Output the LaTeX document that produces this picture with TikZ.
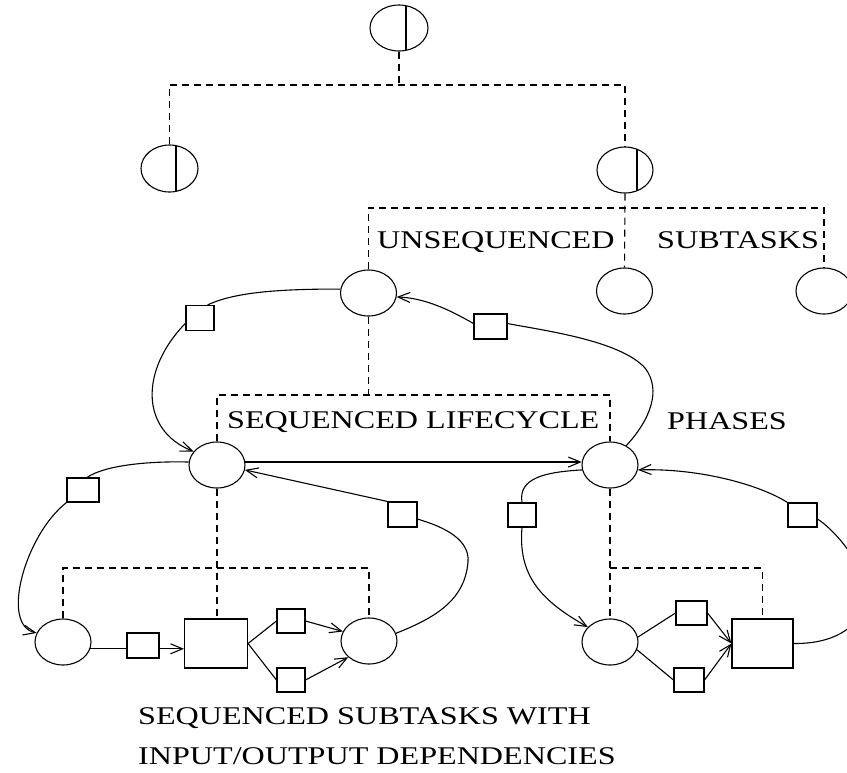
\documentclass[tikz,border=0pt]{standalone}
\usepackage{fontspec}
\usepackage{graphicx}
\setmainfont{Liberation Serif}
\usetikzlibrary{shapes.geometric,arrows.meta,calc}
\tikzset{
  ell/.style={draw, ellipse, line width=1.1pt, minimum width=56pt, minimum height=46pt, inner sep=0pt},
  sbox/.style={draw, rectangle, line width=1.1pt, minimum width=28pt, minimum height=25pt, inner sep=0pt},
  bbox/.style={draw, rectangle, line width=1.1pt, minimum width=62pt, minimum height=49pt, inner sep=0pt},
  dsh/.style={line width=1.1pt, dash pattern=on 7pt off 5pt},
  con/.style={line width=1.1pt},
  arr/.style={line width=1.1pt, -{Straight Barb[length=12pt,width=10pt]}},
  lbl/.style={anchor=base west, inner sep=0pt, font=\fontsize{25.5}{28}\selectfont},
}
\newcommand{\wide}[1]{\scalebox{1.26}[1]{#1}}
\begin{document}
\begin{tikzpicture}[x=1pt,y=-1pt]
\useasboundingbox (0,0) rectangle (847,772);
\clip (0,0) rectangle (847,772);
% hierarchy nodes
\node[ell, minimum width=58pt] (root) at (399,28) {};
\node[ell, minimum width=57pt, minimum height=47pt] (L1) at (169.5,168.5) {};
\node[ell] (R1) at (625,170) {};
\draw[con] ($(root.center)+(7,-22.3)$) -- ($(root.center)+(7,22.3)$);
\draw[con] ($(L1.center)+(6.5,-22.9)$) -- ($(L1.center)+(6.5,22.9)$);
\draw[con] ($(R1.center)+(12,-20.8)$) -- ($(R1.center)+(12,20.8)$);
\node[ell] (U1) at (368.5,293) {};
\node[ell] (U2) at (624.5,291) {};
\node[ell] (U3) at (824,291) {};
\node[ell] (P1) at (217,465) {};
\node[ell] (P2) at (610,465) {};
\node[ell] (A1) at (63,642) {};
\node[ell] (A2) at (369,641) {};
\node[ell] (A3) at (610,642) {};
\node[bbox, minimum width=63pt] (BB1) at (216,643.5) {};
\node[bbox, minimum width=61pt] (BB2) at (762.5,643.5) {};
% small boxes
\node[sbox] (b1) at (200,318) {};
\node[sbox, minimum width=33pt] (b2) at (490.5,326.5) {};
\node[sbox, minimum width=32pt, minimum height=24pt] (b3) at (83,490) {};
\node[sbox, minimum width=32pt] (b4) at (143,645.5) {};
\node[sbox, minimum height=24pt] (b5) at (291,621) {};
\node[sbox, minimum height=24pt] (b6) at (291,680) {};
\node[sbox, minimum width=29pt] (b7) at (402.5,514.5) {};
\node[sbox, minimum height=24pt] (b8) at (522,515) {};
\node[sbox, minimum width=31pt, minimum height=24pt] (b9) at (691.5,613) {};
\node[sbox, minimum width=30pt, minimum height=24pt] (b10) at (689,680) {};
\node[sbox, minimum width=29pt, minimum height=24pt] (b11) at (802.5,515) {};
% dashed trees
\coordinate (j1) at (399,85);
\draw[dsh] (root.south) -- (j1);
\draw[dsh] (L1.north) |- (j1) -| (R1.north);
\coordinate (j2) at (625,208);
\draw[dsh] (R1.south) -- (U2.north);
\draw[dsh] (U1.north) |- (j2) -| (U3.north);
\coordinate (j3) at (368.5,395);
\draw[dsh] (U1.south) -- (j3);
\draw[dsh] (P1.north) |- (j3) -| (P2.north);
\coordinate (j4) at (217,568);
\draw[dsh] (P1.south) -- (BB1.north -| P1.south);
\draw[dsh] (A1.north) |- (j4) -| (A2.north);
\coordinate (j5) at (610,568);
\draw[dsh] (P2.south) -- (A3.north);
\draw[dsh] (j5) -| (BB2.north);
% labels
\node[lbl] (t1) at (377,248) {\wide{UNSEQUENCED}};
\node[lbl] (t2) at (657,248) {\wide{SUBTASKS}};
\node[lbl] (t3) at (227,428) {\wide{SEQUENCED LIFECYCLE}};
\node[lbl] (t4) at (667,429) {\wide{PHASES}};
\node[lbl] (t5) at (138,724) {\wide{SEQUENCED SUBTASKS WITH}};
\node[lbl] (t6) at (138,764) {\wide{INPUT/OUTPUT DEPENDENCIES}};
% phase loop (upper)
\draw[con] (U1.172) .. controls (280,289) and (235,292) .. (b1.60);
\draw[arr] (b1.200) .. controls (140,370) and (140,430) .. (P1.150);
\draw[con] (P2.50) .. controls (650,420) and (662,390) .. (645,368) .. controls (620,340) and (540,330) .. (b2.10);
\draw[arr] (b2.170) .. controls (450,310) and (425,298) .. (U1.-8);
\draw[arr] (P1.6) -- (P2.174);
% left subtask loop
\draw[con] (P1.174) .. controls (150,461) and (105,465) .. (b3.72);
\draw[arr] (b3.south west) .. controls (25,535) and (0,625) .. (A1.161);
\draw[con] (A1.-14) -- (A1.-14 -| b4.west);
\draw[arr] (A1.-14 -| b4.east) -- (A1.-14 -| BB1.west);
\draw[con] (BB1.east) -- (b5.west);
\draw[con] (BB1.east) -- (b6.west);
\draw[arr] (b5.east) -- (A2.160);
\draw[arr] (b6.east) -- (A2.218);
\draw[con] (A2.16) .. controls (435,618) and (465,600) .. (468,562) .. controls (470,540) and (445,527) .. (b7.-17);
\draw[arr] (b7.north west) -- (P1.-10);
% right subtask loop
\draw[con] (P2.190) .. controls (545,472) and (518,478) .. (b8.north);
\draw[arr] (b8.south) .. controls (518,575) and (540,600) .. (A3.146);
\draw[con] (A3.10) -- (b9.west);
\draw[con] (A3.-16) -- (b10.west);
\draw[arr] (b9.east) -- (BB2.west);
\draw[arr] (b10.east) -- (BB2.west);
\draw[con] (BB2.east) .. controls (830,644) and (860,630) .. (865,600) .. controls (870,570) and (835,530) .. (b11.-15);
\draw[arr] (b11.north west) .. controls (760,485) and (700,468) .. (P2.-10);
\end{tikzpicture}
\end{document}
